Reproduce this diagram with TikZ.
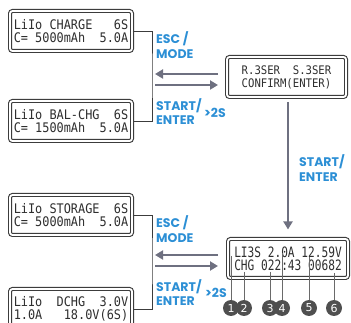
\documentclass[tikz,border=0pt]{standalone}
\usepackage{fontspec}
\setmainfont{Poppins}
\newfontfamily\lcdfont[FakeStretch=0.9]{DejaVu Sans Mono}
\newfontfamily\lcdtall[FakeStretch=0.78]{DejaVu Sans Mono}
\newfontfamily\numfont{DejaVu Sans}
\usetikzlibrary{arrows.meta}

\definecolor{lcdgray}{HTML}{3C3C3C}
\definecolor{lcdtext}{HTML}{2E2E2E}
\definecolor{arrowgray}{HTML}{6E7080}
\definecolor{keyblue}{HTML}{2C8FD5}
\definecolor{markergray}{HTML}{4F4F4F}
\definecolor{pointergray}{HTML}{6A6A6A}

\tikzset{
    lcd/.style={draw=lcdgray, line width=1.1pt, double=white, double distance=1.8pt,
        rounded corners=2.5pt, fill=white, minimum width=122pt, minimum height=40pt,
        inner sep=0pt, align=left, text=lcdtext,
        font=\lcdfont\frenchspacing\fontsize{13.2}{12.5}\selectfont},
    keytext/.style={text=keyblue, font=\bfseries\fontsize{12.5}{14.5}\selectfont,
        align=left, inner sep=0pt, anchor=west},
    flow/.style={draw=arrowgray, line width=2.6pt, -{Triangle[length=8pt, width=9pt]}},
    bracket/.style={draw=lcdgray, line width=0.9pt},
    pointer/.style={draw=pointergray, line width=0.6pt},
    marker/.style={circle, fill=markergray, text=white, inner sep=0pt, minimum size=16pt,
        font=\numfont\fontsize{11}{11}\selectfont}
}

\begin{document}
\begin{tikzpicture}[x=1pt, y=-1pt]

    \path[use as bounding box] (0, 0) rectangle (351, 323);
    \clip (0, 0) rectangle (351, 323);

    % program screens
    \node (box1) [lcd] at (71, 31) {LiIo~CHARGE~~~6S\\C=~5000mAh~~5.0A};
    \node (box2) [lcd] at (71, 121) {LiIo~BAL-CHG~~6S\\C=~1500mAh~~5.0A};
    \node (box4) [lcd] at (71, 215) {LiIo~STORAGE~~6S\\C=~5000mAh~~5.0A};
    \node (box5) [lcd] at (71, 309) {LiIo~~DCHG~~3.0V\\1.0A~~~18.0V(6S)};

    \node (box3) [lcd, minimum width=119pt, align=center,
        font=\lcdfont\frenchspacing\fontsize{11.8}{13}\selectfont] at (286.5, 77)
        {R.3SER~~S.3SER\\CONFIRM(ENTER)};
    \node (box6) [lcd, minimum width=120pt, minimum height=39pt,
        font=\lcdtall\frenchspacing\fontsize{14.3}{13}\selectfont] at (288, 258.5)
        {LI3S~2.0A~12.59V\\CHG~022:43~00682};

    % key labels
    \node (esc1) [keytext] at (156, 45) {ESC /\\MODE};
    \node (start1) [keytext] at (156, 111.5) {START/\\ENTER};
    \node (hold1) [keytext] at (204, 113) {>2S};
    \node (start3) [keytext] at (299, 168) {START/\\ENTER};
    \node (esc2) [keytext] at (156, 229) {ESC /\\MODE};
    \node (start2) [keytext] at (156, 292.5) {START/\\ENTER};
    \node (hold2) [keytext] at (205, 293) {>2S};

    % arrow ends
    \coordinate (u1a) at (218, 74);
    \coordinate (u1b) at (155, 74);
    \coordinate (u2a) at (155, 85);
    \coordinate (u2b) at (218, 85);
    \coordinate (l1a) at (218, 255);
    \coordinate (l1b) at (155, 255);
    \coordinate (l2a) at (155, 266);
    \coordinate (l2b) at (218, 266);
    \coordinate (k1) at (152, 75);
    \coordinate (k2) at (152, 260);
    \coordinate (v1) at (288, 102);

    % brackets
    \draw[bracket] (box1.east) -| (k1) |- (box2.east);
    \draw[bracket] (box4.east) -| (k2) |- (box5.east);

    % arrows
    \path
    (u1a) edge[flow] (u1b)
    (u2a) edge[flow] (u2b)
    (l1a) edge[flow] (l1b)
    (l2a) edge[flow] (l2b)
    (v1) edge[flow, shorten >=9pt] (box6.north);

    % display fields
    \coordinate (t1) at (231, 256);
    \coordinate (t2) at (244, 272);
    \coordinate (t3) at (270, 272);
    \coordinate (t4) at (282, 253);
    \coordinate (t5) at (309, 257);
    \coordinate (t6) at (334, 273);

    \node (m1) [marker] at (231, 308) {1};
    \node (m2) [marker] at (244, 308) {2};
    \node (m3) [marker] at (270, 308) {3};
    \node (m4) [marker] at (282, 308) {4};
    \node (m5) [marker] at (309, 308) {5};
    \node (m6) [marker] at (334, 308) {6};

    \path[pointer]
    (t1) edge (m1)
    (t2) edge (m2)
    (t3) edge (m3)
    (t4) edge (m4)
    (t5) edge (m5)
    (t6) edge (m6);

\end{tikzpicture}
\end{document}
